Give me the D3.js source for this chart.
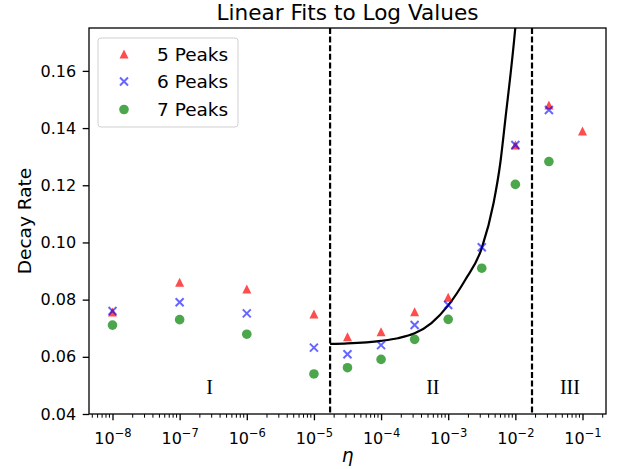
<!DOCTYPE html>
<html><head><meta charset="utf-8">
<script src="https://cdn.jsdelivr.net/npm/d3@7"></script>
<style>
body{margin:0;background:#fff;}
svg{display:block;font-family:"DejaVu Sans",sans-serif;}
</style></head>
<body><svg id="c" width="622" height="469"></svg>
<script>
// ---- data ----
const eta = [1e-8, 1e-7, 1e-6, 1e-5, 3.16e-5, 1e-4, 3.16e-4, 1e-3, 3.16e-3, 1e-2, 3.16e-2, 1e-1];
const peaks5 = [0.0757, 0.0861, 0.0837, 0.0750, 0.0670, 0.0688, 0.0758, 0.0808, null, 0.1341, 0.1481, 0.1390];
const peaks6 = [0.0760, 0.0791, 0.0752, 0.0632, 0.0609, 0.0641, 0.0711, 0.0781, 0.0983, 0.1341, 0.1463, null];
const peaks7 = [0.0711, 0.0730, 0.0679, 0.0540, 0.0562, 0.0591, 0.0661, 0.0731, 0.0910, 0.1203, 0.1283, null];
const seriesNames = ["5 Peaks", "6 Peaks", "7 Peaks"];
const fitEta = [1.74e-5, 3.16e-5, 1e-4, 1.78e-4, 3.16e-4, 5.62e-4, 1e-3, 1.78e-3, 3.16e-3, 4.73e-3, 5.96e-3, 7.08e-3, 1e-2, 1.05e-2];
const fitRate = [0.0645, 0.0647, 0.0656, 0.0665, 0.0682, 0.0718, 0.0780, 0.0868, 0.0980, 0.1137, 0.1277, 0.1429, 0.1753, 0.1810];
const boundaries = [1.74e-5, 1.77e-2];
const regionLabels = ["I", "II", "III"];
const regionEta = [2.8e-7, 5.9e-4, 6.5e-2];
const regionY = 0.0495;
const xTickExps = [-8, -7, -6, -5, -4, -3, -2, -1];
const yTicks = [0.04, 0.06, 0.08, 0.10, 0.12, 0.14, 0.16];

// ---- layout ----
const L = 89, R = 606, T = 28, B = 414;
const svg = d3.select("#c");
const x = d3.scaleLog().domain([Math.pow(10, -8.35), Math.pow(10, -0.65)]).range([L, R]);
const y = d3.scaleLinear().domain([0.04, 0.175]).range([B, T]);

svg.append("defs").append("clipPath").attr("id", "clip")
  .append("rect").attr("x", L).attr("y", T).attr("width", R - L).attr("height", B - T);

// minor ticks
const minor = [];
for (let e = -9; e <= 0; e++) for (let m = 2; m <= 9; m++) {
  const v = m * Math.pow(10, e);
  if (v >= x.domain()[0] && v <= x.domain()[1]) minor.push(v);
}
svg.append("g").selectAll("line").data(minor).join("line")
  .attr("x1", d => x(d)).attr("x2", d => x(d)).attr("y1", B).attr("y2", B + 3.7)
  .attr("stroke", "#000").attr("stroke-width", 1);

// x axis
const xAxis = d3.axisBottom(x).tickValues(xTickExps.map(e => Math.pow(10, e))).tickSize(6.3).tickPadding(3.6).tickFormat(() => "");
const gx = svg.append("g").attr("transform", `translate(0,${B})`).call(xAxis);
gx.select(".domain").remove();
gx.selectAll(".tick line").attr("stroke-width", 1.3);
gx.selectAll(".tick").each(function(d, i) {
  const t = d3.select(this).select("text").attr("font-size", 16).attr("fill", "#000")
    .attr("font-family", "DejaVu Sans").attr("dy", "1.25em");
  t.append("tspan").text("10");
  t.append("tspan").attr("font-size", 11.5).attr("dy", "-0.62em").text("\u2212" + (-xTickExps[i]));
});

// y axis
const yAxis = d3.axisLeft(y).tickValues(yTicks).tickSize(6.3).tickPadding(6.5).tickFormat(d3.format(".2f"));
const gy = svg.append("g").attr("transform", `translate(${L},0)`).call(yAxis);
gy.select(".domain").remove();
gy.selectAll(".tick line").attr("stroke-width", 1.3);
gy.selectAll(".tick text").attr("font-size", 16).attr("fill", "#000").attr("font-family", "DejaVu Sans");

// boundaries
const plot = svg.append("g").attr("clip-path", "url(#clip)");
plot.selectAll("line.b").data(boundaries).join("line").attr("class", "b")
  .attr("x1", d => x(d)).attr("x2", d => x(d)).attr("y1", T).attr("y2", B)
  .attr("stroke", "#000").attr("stroke-width", 2.2).attr("stroke-dasharray", "6,2.6");

// fit curve
const fitPts = fitEta.map((e, i) => [e, fitRate[i]]);
plot.append("path").datum(fitPts)
  .attr("d", d3.line().x(d => x(d[0])).y(d => y(d[1])).curve(d3.curveMonotoneX))
  .attr("fill", "none").attr("stroke", "#000").attr("stroke-width", 2.2);

// markers
const ms = 4.5;
function tri(g, cx, cy, s) {
  g.append("path").attr("d", `M${cx},${cy - s}L${cx - s},${cy + s}L${cx + s},${cy + s}Z`)
    .attr("fill", "red").attr("fill-opacity", 0.7);
}
function cross(g, cx, cy, s) {
  g.append("path").attr("d", `M${cx - s},${cy - s}L${cx + s},${cy + s}M${cx - s},${cy + s}L${cx + s},${cy - s}`)
    .attr("stroke", "blue").attr("stroke-opacity", 0.6).attr("stroke-width", 2).attr("fill", "none");
}
function dot(g, cx, cy, s) {
  g.append("circle").attr("cx", cx).attr("cy", cy).attr("r", s + 0.3)
    .attr("fill", "green").attr("fill-opacity", 0.7);
}
const pts = plot.append("g");
eta.forEach((e, i) => { if (peaks5[i] != null) tri(pts, x(e), y(peaks5[i]), ms); });
eta.forEach((e, i) => { if (peaks6[i] != null) cross(pts, x(e), y(peaks6[i]), ms - 0.5); });
eta.forEach((e, i) => { if (peaks7[i] != null) dot(pts, x(e), y(peaks7[i]), ms); });

// region labels
svg.append("g").selectAll("text").data(regionLabels).join("text")
  .attr("x", (d, i) => x(regionEta[i])).attr("y", (d, i) => y(regionY))
  .attr("text-anchor", "middle").attr("dominant-baseline", "central")
  .attr("font-family", "Liberation Serif, serif").attr("font-size", 20).text(d => d);

// frame
svg.append("rect").attr("x", L).attr("y", T).attr("width", R - L).attr("height", B - T)
  .attr("fill", "none").attr("stroke", "#000").attr("stroke-width", 1.3);

// legend
const lg = svg.append("g");
lg.append("rect").attr("x", 98).attr("y", 38).attr("width", 140).attr("height", 89).attr("rx", 3)
  .attr("fill", "#fff").attr("fill-opacity", 0.8).attr("stroke", "#d0d0d0").attr("stroke-width", 1);
const rows = [54, 81.5, 109.5];
tri(lg, 124, rows[0], ms); cross(lg, 124, rows[1], ms - 0.5); dot(lg, 124, rows[2], ms);
lg.selectAll("text").data(seriesNames).join("text")
  .attr("x", 157).attr("y", (d, i) => rows[i]).attr("dominant-baseline", "central")
  .attr("font-size", 18.5).attr("fill", "#000").text(d => d);

// labels
svg.append("text").attr("x", (L + R) / 2).attr("y", 19.5).attr("text-anchor", "middle")
  .attr("font-size", 21.6).text("Linear Fits to Log Values");
svg.append("text").attr("transform", `translate(24,${(T + B) / 2}) rotate(-90)`).attr("text-anchor", "middle")
  .attr("dominant-baseline", "central").attr("font-size", 18.5).text("Decay Rate");
svg.append("text").attr("x", (L + R) / 2).attr("y", 462).attr("text-anchor", "middle")
  .attr("font-size", 18.5).attr("font-style", "italic").text("\u03b7");
</script></body></html>
